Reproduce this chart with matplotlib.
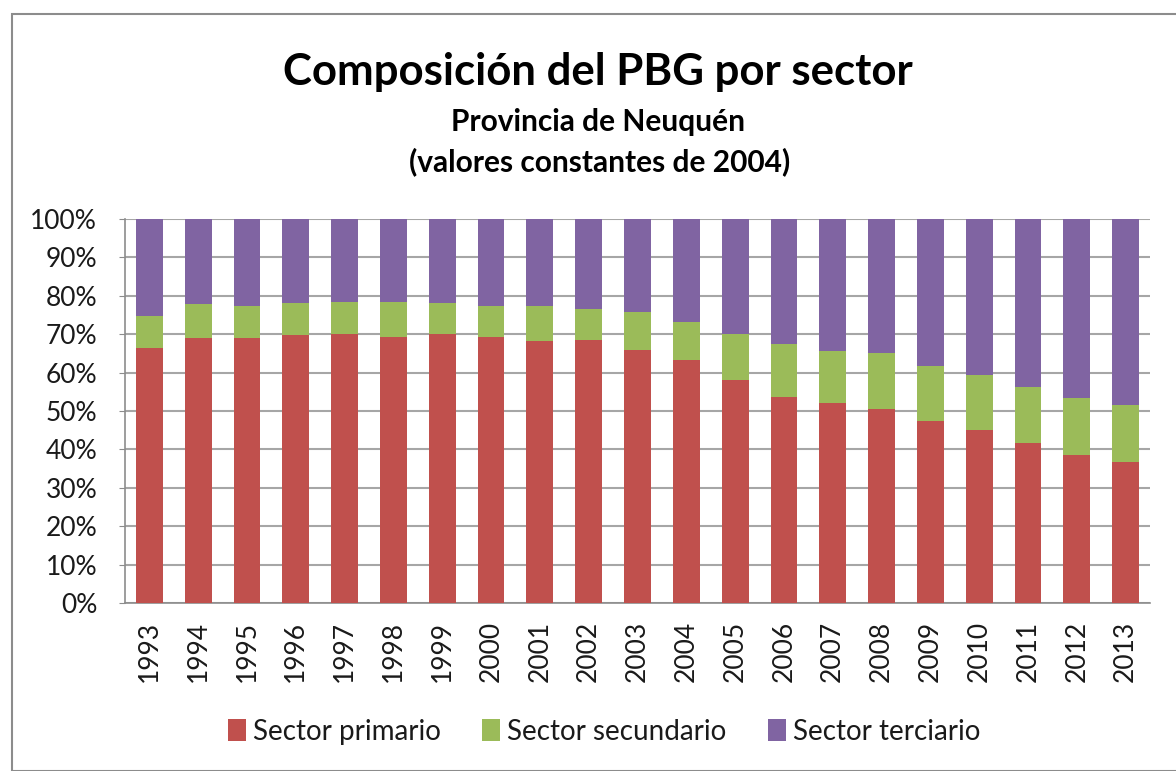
import matplotlib
matplotlib.use("Agg")
import matplotlib.pyplot as plt
from matplotlib.patches import Rectangle
from matplotlib.ticker import FuncFormatter, MultipleLocator

years = ["1993", "1994", "1995", "1996", "1997", "1998", "1999", "2000", "2001", "2002",
         "2003", "2004", "2005", "2006", "2007", "2008", "2009", "2010", "2011", "2012", "2013"]
primario = [66.3, 69.0, 68.9, 69.8, 70.1, 69.4, 70.1, 69.4, 68.1, 68.6,
            65.9, 63.2, 58.2, 53.6, 52.0, 50.4, 47.4, 45.0, 41.7, 38.5, 36.7]
secundario = [8.4, 8.8, 8.4, 8.4, 8.4, 9.1, 8.1, 8.0, 9.3, 8.0,
              9.9, 10.0, 11.9, 13.8, 13.5, 14.6, 14.3, 14.3, 14.6, 15.0, 14.9]
terciario = [25.3, 22.2, 22.7, 21.8, 21.5, 21.5, 21.8, 22.6, 22.6, 23.4,
             24.2, 26.8, 29.9, 32.6, 34.5, 35.0, 38.3, 40.7, 43.7, 46.5, 48.4]
series_names = ["Sector primario", "Sector secundario", "Sector terciario"]
colors = ["#C0504D", "#9BBB59", "#8064A2"]

plt.rcParams['font.family'] = ['Lato', 'DejaVu Sans']
text_color = "#1a1a1a"

fig = plt.figure(figsize=(11.76, 7.71), dpi=100)
fig.patches.append(Rectangle((12/1176, 0), 1.2, 1 - 14/771, transform=fig.transFigure,
                             fill=False, edgecolor="#8c8c8c", linewidth=1.5))

ax = fig.add_axes([125/1176, 1 - 603/771, (1150-125)/1176, (603-219)/771])
x = list(range(len(years)))
bottom = [0.0] * len(years)
for name, vals, c in zip(series_names, [primario, secundario, terciario], colors):
    ax.bar(x, vals, width=0.55, bottom=bottom, color=c, label=name, zorder=3, linewidth=0)
    bottom = [b + v for b, v in zip(bottom, vals)]

ax.set_xlim(-0.5, len(years) - 0.5)
ax.set_ylim(0, 100)
ax.yaxis.set_major_locator(MultipleLocator(10))
ax.yaxis.set_major_formatter(FuncFormatter(lambda v, p: f"{int(round(v))}%"))
ax.set_xticks(x)
ax.set_xticklabels(years, rotation=90, fontsize=19, color=text_color)
ax.tick_params(axis='y', labelsize=19, labelcolor=text_color, length=4, color="#8c8c8c",
               direction='out', pad=16)
ax.tick_params(axis='x', length=0, pad=13)
ax.grid(axis='y', color="#a6a6a6", linewidth=1.5, zorder=0)
for s in ["top", "right"]:
    ax.spines[s].set_visible(False)
for s in ["left", "bottom"]:
    ax.spines[s].set_color("#8c8c8c")
    ax.spines[s].set_linewidth(1.2)

fig.text(598/1176, 1 - 72/771, "Composición del PBG por sector", ha='center', va='center',
         fontsize=31.5, fontweight='bold', color="black")
fig.text(598/1176, 1 - 122/771, "Provincia de Neuquén", ha='center', va='center',
         fontsize=21.5, fontweight='bold', color="black")
fig.text(600/1176, 1 - 162/771, "(valores constantes de 2004)", ha='center', va='center',
         fontsize=21.5, fontweight='bold', color="black")

leg = fig.legend(loc='center', bbox_to_anchor=(604/1176, 1 - 732/771), ncol=3, frameon=False,
                 fontsize=20, handlelength=0.65, handleheight=0.85, handletextpad=0.25,
                 columnspacing=1.5)
for t in leg.get_texts():
    t.set_color(text_color)

fig.savefig("out.png", dpi=100, facecolor="white")
